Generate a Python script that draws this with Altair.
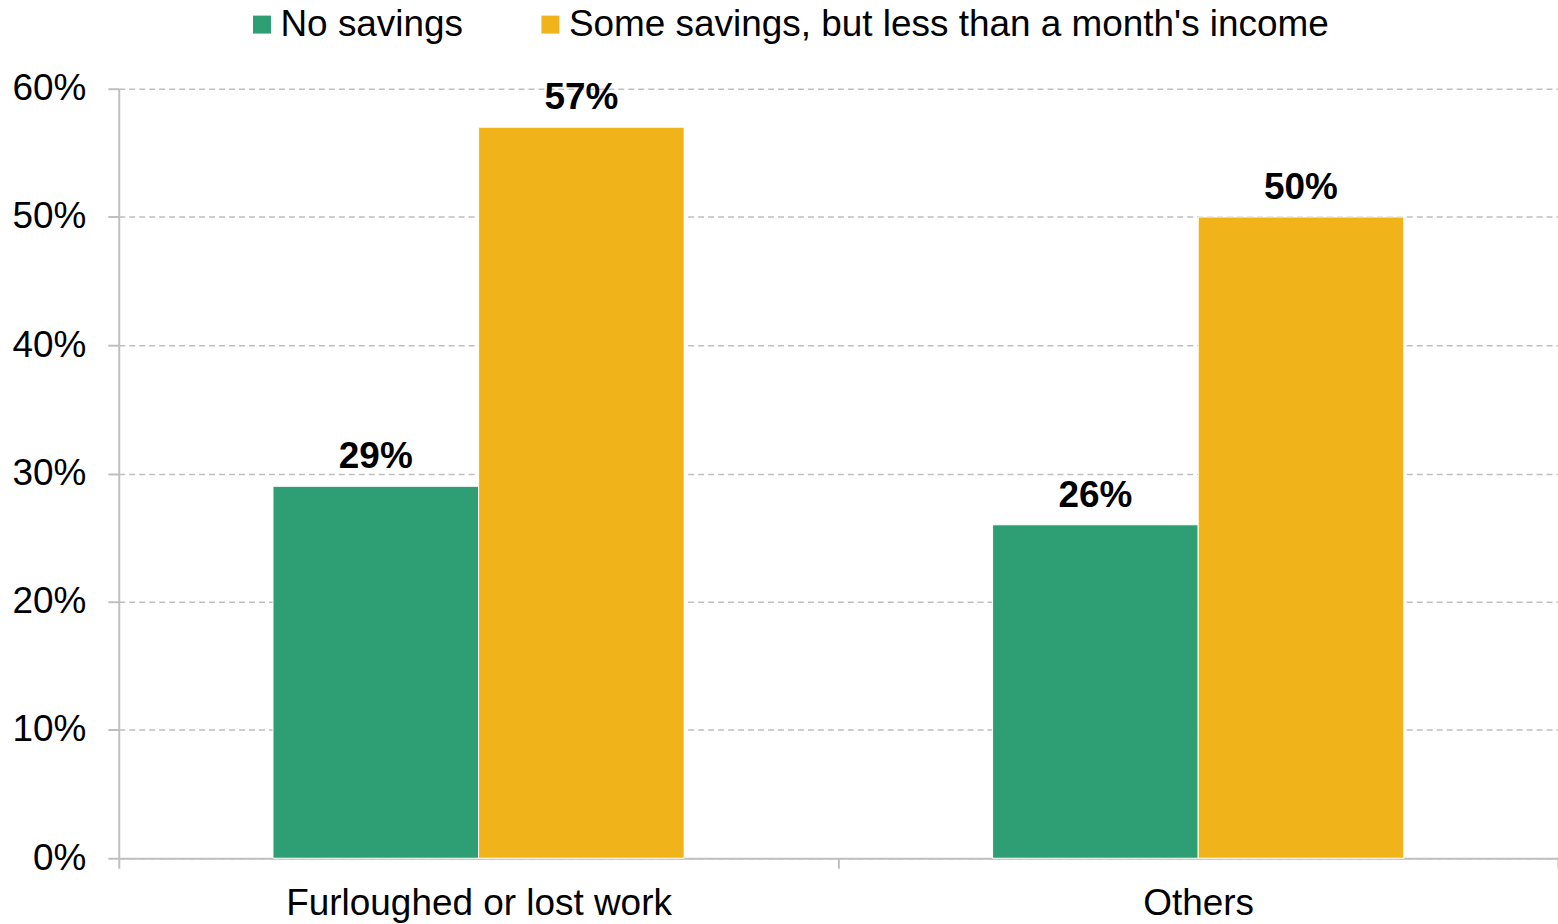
import altair as alt
import pandas as pd

groups = ["Furloughed or lost work", "Others"]
series = ["No savings", "Some savings, but less than a month's income"]
no_savings = [29, 26]
some_savings = [57, 50]
colors = ["#2E9E74", "#F0B41A"]

rows = []
for i, g in enumerate(groups):
    rows.append({"group": g, "series": series[0], "value": no_savings[i] / 100, "label": f"{no_savings[i]}%"})
    rows.append({"group": g, "series": series[1], "value": some_savings[i] / 100, "label": f"{some_savings[i]}%"})
df = pd.DataFrame(rows)

FONT = "Liberation Sans"
FS = 37

x = alt.X("group:N", sort=groups, title=None,
          scale=alt.Scale(paddingInner=0, paddingOuter=0),
          axis=alt.Axis(labelAngle=0, labelFontSize=FS, labelFont=FONT, labelColor="#000000",
                        domainColor="#BFBFBF", domainWidth=2, tickColor="#BFBFBF", tickWidth=2,
                        tickSize=10, tickBand="extent", labelPadding=17, labelLimit=900, grid=False))
xo = alt.XOffset("series:N", sort=series, scale=alt.Scale(paddingInner=0, paddingOuter=0.75))
y = alt.Y("value:Q", title=None,
          scale=alt.Scale(domain=[0, 0.6], nice=False),
          axis=alt.Axis(values=[0, 0.1, 0.2, 0.3, 0.4, 0.5, 0.6], format=".0%",
                        labelFontSize=FS, labelFont=FONT, labelColor="#000000",
                        domainColor="#BFBFBF", domainWidth=2, tickColor="#BFBFBF", tickWidth=2,
                        tickSize=11, labelPadding=22,
                        gridColor="#BFBFBF", gridDash=[6, 4], gridWidth=1.5))

bars = alt.Chart(df).mark_bar(stroke="white", strokeWidth=1).encode(
    x=x, xOffset=xo, y=y,
    color=alt.Color("series:N", sort=series,
                    scale=alt.Scale(domain=series, range=colors),
                    legend=alt.Legend(title=None, orient="none", legendX=125, legendY=-83,
                                      direction="horizontal", columns=2, symbolType="square",
                                      symbolSize=324, symbolStrokeWidth=0, labelFontSize=FS,
                                      labelFont=FONT, labelColor="#000000", labelOffset=0,
                                      columnPadding=68, labelLimit=1000)),
)

labels = alt.Chart(df).mark_text(baseline="bottom", dy=-10, fontSize=FS, fontWeight="bold",
                                 font=FONT, color="#000000").encode(
    x=x, xOffset=xo, y=y, text="label:N")

chart = (bars + labels).properties(
    width=1442, height=771,
    autosize=alt.AutoSizeParams(type="none"),
    padding={"left": 119, "top": 88, "right": 0, "bottom": 65},
).configure_view(stroke=None).configure_axis(gridOpacity=1)

chart.save("out.html", embed_options={"renderer": "svg", "actions": False})
